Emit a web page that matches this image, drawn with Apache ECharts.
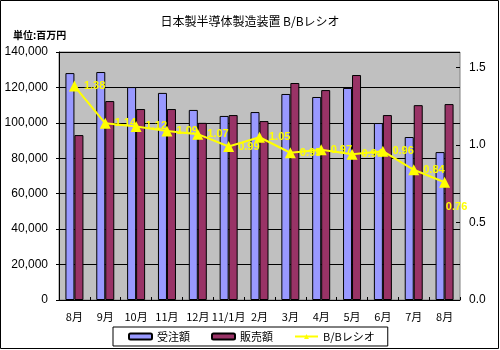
<!DOCTYPE html>
<html><head><meta charset="utf-8">
<script src="https://cdn.jsdelivr.net/npm/echarts@6/dist/echarts.min.js"></script>
<style>html,body{margin:0;padding:0;background:#fff}#c{width:500px;height:350px}</style>
</head><body><div id="c"></div>
<script>
const categories = ['8月','9月','10月','11月','12月','11/1月','2月','3月','4月','5月','6月','7月','8月'];
const orders = [128100,128700,120200,116900,107300,103900,106100,116300,114600,119700,99900,92000,83500];
const sales = [93100,112300,107800,107800,100000,104400,101000,122500,118500,127000,104400,110000,110600];
const ratio = [1.38,1.14,1.12,1.09,1.07,0.99,1.05,0.95,0.97,0.94,0.96,0.84,0.76];
const leftTicks = [0,20000,40000,60000,80000,100000,120000,140000];
const rightTicks = [0,0.5,1.0,1.5];

const font = "'Noto Sans CJK JP', 'Liberation Sans', sans-serif";
function comma(v){return String(v).replace(/\B(?=(\d{3})+(?!\d))/g, ',');}

const chart = echarts.init(document.getElementById('c'), null, {renderer:'canvas'});
chart.setOption({
  animation:false,
  backgroundColor:'#ffffff',
  textStyle:{fontFamily:font},
  title:{text:'日本製半導体製造装置 B/Bレシオ', left:'center', top:10,
    textStyle:{fontSize:12, fontWeight:'normal', color:'#000', fontFamily:font}},
  graphic:[
    {type:'rect', shape:{x:0.5,y:0.5,width:498,height:348}, style:{fill:'none', stroke:'#000', lineWidth:1}, silent:true},
    {type:'text', left:13, top:30, style:{text:'単位:百万円', font:'bold 10px '+font, fill:'#000'}}
  ],
  grid:{left:59, right:40, top:52, bottom:50, show:true, backgroundColor:'#c0c0c0', borderColor:'#808080', borderWidth:1},
  legend:{
    left:113, top:327, padding:[4,13,4,15], itemGap:21, itemWidth:23, itemHeight:6,
    borderColor:'#000', borderWidth:1, backgroundColor:'#fff',
    textStyle:{fontSize:11, color:'#000', fontFamily:font},
    data:['受注額','販売額','B/Bレシオ']
  },
  xAxis:{type:'category', data:categories,
    axisLine:{lineStyle:{color:'#000'}},
    axisTick:{show:true, inside:true, length:3, lineStyle:{color:'#000'}},
    axisLabel:{color:'#000', fontSize:11, margin:11, interval:0, fontFamily:font}},
  yAxis:[
    {type:'value', min:0, max:140000, interval:20000,
      axisLine:{show:true, lineStyle:{color:'#000'}},
      axisTick:{show:true, length:3, lineStyle:{color:'#000'}},
      splitLine:{show:true, lineStyle:{color:'#000', width:1}},
      axisLabel:{color:'#000', fontSize:12, margin:11, fontFamily:"'Liberation Sans', sans-serif", formatter:v=>comma(v)}},
    {type:'value', min:0, max:1.6, interval:0.5, position:'right',
      axisLine:{show:false},
      axisTick:{show:true, inside:true, length:4, lineStyle:{color:'#000'}, customValues:rightTicks},
      splitLine:{show:false},
      axisLabel:{color:'#000', fontSize:12, margin:9, fontFamily:"'Liberation Sans', sans-serif", customValues:rightTicks, formatter:v=>v.toFixed(1)}}
  ],
  series:[
    {name:'受注額', type:'bar', data:orders, barWidth:9, barGap:'0%',
      itemStyle:{color:'#9999ff', borderColor:'#000', borderWidth:1}},
    {name:'販売額', type:'bar', data:sales, barWidth:9, barGap:'0%',
      itemStyle:{color:'#993366', borderColor:'#000', borderWidth:1}},
    {name:'B/Bレシオ', type:'line', yAxisIndex:1, data:ratio.map((v,i)=> i===ratio.length-1 ? {value:v, label:{position:'bottom', offset:[12,10]}} : v),
      symbol:'triangle', symbolSize:11,
      lineStyle:{color:'#ffff00', width:2}, itemStyle:{color:'#ffff00'},
      label:{show:true, position:'right', distance:4, color:'#ffff00', fontWeight:'bold', fontSize:11,
        fontFamily:"'Liberation Sans', sans-serif", formatter:p=>p.value.toFixed(2)}}
  ]
});
</script></body></html>
